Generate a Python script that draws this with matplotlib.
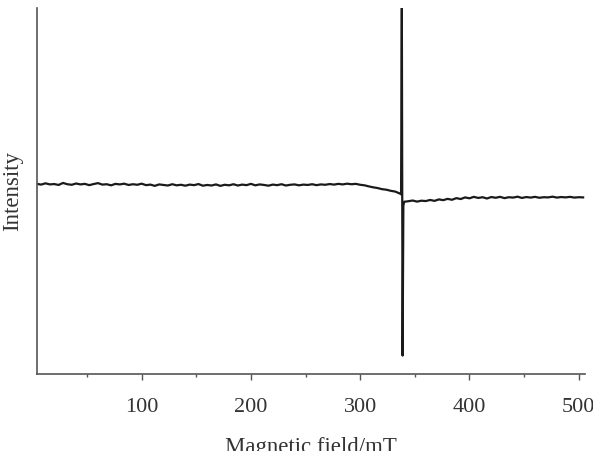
import matplotlib.pyplot as plt
import numpy as np

plt.rcParams['font.family'] = ['Liberation Serif', 'DejaVu Serif']

# baseline before the signal, every 4 mT from 4 to 336
field_low = list(range(4, 337, 4))
signal_low = [3.9, 3.5, 4.2, 3.6, 3.8, 3.3, 4.4, 3.7, 3.4, 4.1, 3.6, 3.9,
              3.2, 3.8, 4.3, 3.5, 3.7, 3.1, 3.9, 3.6, 4.0, 3.3, 3.7, 3.4,
              4.0, 3.2, 3.5, 2.8, 3.6, 3.3, 3.0, 3.7, 3.1, 3.4, 2.9, 3.5,
              3.2, 3.8, 2.9, 3.3, 3.0, 3.6, 2.8, 3.4, 3.1, 3.7, 3.0, 3.5,
              3.2, 3.9, 3.1, 3.6, 3.3, 2.9, 3.5, 3.2, 3.7, 3.0, 3.4, 3.6,
              3.1, 3.5, 3.3, 3.7, 3.2, 3.6, 3.4, 3.8, 3.5, 3.9, 3.6, 4.0,
              3.7, 3.9, 3.4, 3.1, 2.5, 2.0, 1.6, 1.0, 0.7, 0.1, -0.3, -1.3]

# the sharp line near 338 mT
field_peak = [337.4, 338.1, 338.8, 339.5, 340.2]
signal_peak = [-1.8, 100, -90, -8, -5.9]

# baseline after the signal, every 4 mT from 344 to 504
field_high = list(range(344, 505, 4))
signal_high = [-5.6, -5.2, -5.8, -5.3, -5.5, -4.9, -5.4, -4.6, -5.0, -4.3,
               -4.8, -3.9, -4.4, -3.5, -4.0, -3.2, -3.8, -3.4, -4.1, -3.3,
               -3.7, -3.2, -3.9, -3.4, -3.6, -3.1, -3.8, -3.3, -3.6, -3.2,
               -3.7, -3.4, -3.5, -3.1, -3.6, -3.3, -3.5, -3.2, -3.6, -3.4,
               -3.5]

x_values = np.array(field_low + field_peak + field_high)
y_values = np.array(signal_low + signal_peak + signal_high)

fig = plt.figure(figsize=(5.93, 4.51), dpi=100)
ax = fig.add_axes([0.062, 0.171, 0.925, 0.811])
ax.plot(x_values, y_values, color='#1a1a1a', linewidth=1.6)

ax.set_xlim(4, 506)
ax.set_ylim(-100, 100)
ax.set_xticks([100, 200, 300, 400, 500])
ax.set_xticks([50, 150, 250, 350, 450], minor=True)
ax.set_yticks([])
ax.spines['top'].set_visible(False)
ax.spines['right'].set_visible(False)
for side in ('left', 'bottom'):
    ax.spines[side].set_color('#555555')
    ax.spines[side].set_linewidth(1.2)
ax.tick_params(axis='x', which='major', length=4.5, width=1.0,
               color='#555555', labelsize=16, pad=13, labelcolor='#333333')
ax.tick_params(axis='x', which='minor', length=2.5, width=1.0,
               color='#555555')
ax.set_xlabel('Magnetic field/mT', fontsize=16.5, color='#333333', labelpad=14)
ax.set_ylabel('Intensity', fontsize=16.5, color='#333333', labelpad=10)

plt.savefig('out.png', dpi=100)
